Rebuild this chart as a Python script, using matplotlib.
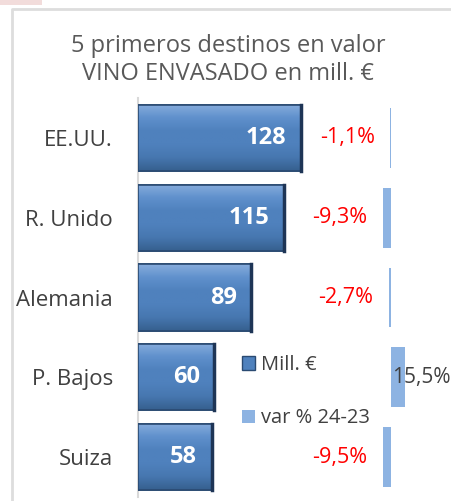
import matplotlib
matplotlib.use('Agg')
import matplotlib.pyplot as plt
import numpy as np
from matplotlib.patches import Rectangle, Patch

plt.rcParams['font.family'] = ['Open Sans', 'DejaVu Sans']

paises = ['EE.UU.', 'R. Unido', 'Alemania', 'P. Bajos', 'Suiza']
mill_eur = [128, 115, 89, 60, 58]
var_pct = [-1.1, -9.3, -2.7, 15.5, -9.5]

W, H = 451, 501
fig = plt.figure(figsize=(W / 100, H / 100), dpi=100)

# marco del gráfico y rectángulo rosa arriba a la izquierda
fig.patches.append(Rectangle((0, 1 - 5 / H), 42 / W, 5 / H, transform=fig.transFigure,
                             facecolor='#F2DCDB', edgecolor='none'))
fig.lines.append(plt.Line2D([12 / W, 12 / W, 1], [0, 1 - 9 / H, 1 - 9 / H], transform=fig.transFigure,
                            color='#DDDDDD', lw=2))

fig.text(228 / W, 1 - 46 / H, '5 primeros destinos en valor', ha='center', va='center',
         fontsize=17, color='#595959')
fig.text(228 / W, 1 - 74 / H, 'VINO ENVASADO en mill. €', ha='center', va='center',
         fontsize=17, color='#595959')

left, right, top, bottom = 138, 451, 98, 497
ax = fig.add_axes([left / W, 1 - bottom / H, (right - left) / W, (bottom - top) / H])
ax.set_facecolor('none')
y = np.arange(len(paises))

bars = ax.barh(y, mill_eur, height=0.83, color='#4F81BD', edgecolor='#2A4A72', lw=1.2, zorder=3)
ax.set_xlim(0, (right - left) / 1.273)

# degradado tipo bisel dentro de cada barra
grad = np.linspace(0, 1, 64).reshape(-1, 1)
cmap = matplotlib.colors.LinearSegmentedColormap.from_list(
    'bisel', ['#86ACDC', '#5F90CC', '#4F81BD', '#4F81BD', '#4777B0', '#36608F'])
for b in bars:
    x0, y0, w, h = b.get_x(), b.get_y(), b.get_width(), b.get_height()
    im = ax.imshow(grad, extent=(x0, x0 + w, y0 + h, y0), aspect='auto', cmap=cmap, zorder=3.5,
                   interpolation='bilinear')
    im.set_clip_path(b)
    ax.add_patch(Rectangle((x0, y0), w, h, facecolor='none', edgecolor='#2A4A72', lw=1.2, zorder=4))
    ax.plot([x0 + w, x0 + w], [y0, y0 + h], color='#1E3556', lw=2.5, zorder=4)
ax.set_ylim(4.5, -0.5)

for i, v in enumerate(mill_eur):
    ax.annotate(str(v), (v, i), xytext=(-10.5, 0), textcoords='offset points', ha='right', va='center',
                fontsize=17, fontweight='bold', color='white', zorder=5)

ax.set_yticks(y)
ax.set_yticklabels(paises, fontsize=16, color='#404040')
ax.tick_params(axis='y', length=0, pad=18)
ax.set_xticks([])
for s in ['top', 'right', 'bottom']:
    ax.spines[s].set_visible(False)
ax.spines['left'].set_color('#D9D9D9')
ax.spines['left'].set_linewidth(1.5)

# eje secundario para la variación
ax2 = ax.twiny()
zero_px, px_pct = 391 - left, 0.88
ax2.set_xlim(-zero_px / px_pct, (right - left - zero_px) / px_pct)
ax2.set_ylim(4.5, -0.5)
ax2.barh(y, var_pct, height=0.75, color='#8DB3E2', zorder=3)
ax2.axis('off')
for i, v in enumerate(var_pct):
    txt = f'{v:.1f}%'.replace('.', ',')
    if v < 0:
        ax2.annotate(txt, (v, i), xytext=(-11, 0), textcoords='offset points', ha='right',
                     va='center', fontsize=15.5, color='#FF0000')
    else:
        ax2.annotate(txt, (v, i), xytext=(-9, 0), textcoords='offset points', ha='left',
                     va='center', fontsize=15, color='#404040', annotation_clip=False)

handles = [Patch(facecolor='#4F81BD', edgecolor='#2A4A72', label='Mill. €'),
           Patch(facecolor='#8DB3E2', label='var % 24-23')]
leg = fig.legend(handles=handles, loc='upper left', bbox_to_anchor=(232 / W, 1 - 345 / H),
                 frameon=False, fontsize=14.5, labelcolor='#404040', handlelength=0.65,
                 handleheight=0.65, handletextpad=0.3, labelspacing=1.65, borderpad=0)

fig.savefig('out.png', dpi=100)
